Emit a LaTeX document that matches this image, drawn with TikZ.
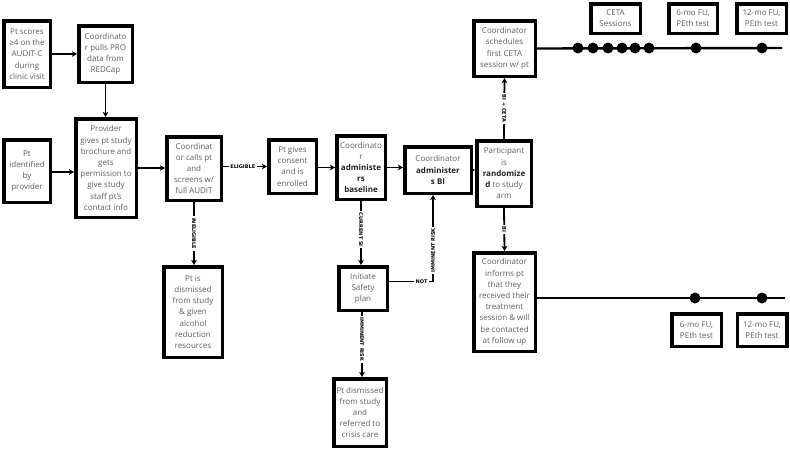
\documentclass[tikz,border=0pt]{standalone}
\usepackage{fontspec}
\setmainfont{Open Sans}
\newfontfamily\labfamily{DejaVu Sans}
\usetikzlibrary{arrows.meta}
\definecolor{txtgray}{HTML}{606060}
\definecolor{boldtxt}{HTML}{222222}
\newcommand{\bx}[1]{\textcolor{boldtxt}{\bfseries #1}}
\tikzset{
  box/.style={draw, line width=3.5pt, fill=white, inner sep=0pt, align=center,
    text=txtgray, font=\fontsize{8}{11.2}\selectfont},
  conn/.style={line width=1.8pt, -{Stealth[length=5pt,width=5.5pt,inset=1.2pt]}},
  lab/.style={fill=white, inner sep=1.8pt, text=black,
    font=\labfamily\bfseries\fontsize{5}{6}\selectfont},
  tl/.style={line width=2.4pt},
  dot/.style={fill=black}
}
\begin{document}
\begin{tikzpicture}[x=1pt,y=-1pt]
\useasboundingbox (0,0) rectangle (790,450);
% boxes (size = outer - line width)
\node[box, minimum width=46.5pt, minimum height=66.5pt] (b1) at (27,54) {Pt scores\\≥4 on the\\AUDIT-C\\during\\clinic visit};
\node[box, minimum width=53.5pt, minimum height=56.5pt] (b2) at (105.5,54) {Coordinato\\r pulls PRO\\data from\\REDCap};
\node[box, minimum width=46.5pt, minimum height=62.5pt] (b3) at (27,171) {Pt\\identified\\by\\provider};
\node[box, minimum width=60.5pt, minimum height=98.5pt] (b4) at (106,168) {Provider\\gives pt study\\brochure and\\gets\\permission to\\give study\\staff pt's\\contact info};
\node[box, minimum width=54.5pt, minimum height=63.5pt] (b5) at (194,168.5) {Coordinat\\or calls pt\\and\\screens w/\\full AUDIT};
\node[box, minimum width=47.5pt, minimum height=53.5pt] (b6) at (292.5,166.5) {Pt gives\\consent\\and is\\enrolled};
\node[box, minimum width=48.5pt, minimum height=63.5pt] (b7) at (361,167.5) {Coordinato\\r\\\bx{administe}\\\bx{rs}\\\bx{baseline}};
\node[box, minimum width=66.5pt, minimum height=46.5pt] (b8) at (438,170) {Coordinator\\\bx{administer}\\\bx{s BI}};
\node[box, minimum width=54.5pt, minimum height=65.5pt] (b9) at (504,173.5) {Participant\\is\\\bx{randomize}\\\bx{d} to study\\arm};
\node[box, minimum width=61.5pt, minimum height=55.5pt] (b10) at (504.5,48.5) {Coordinator\\schedules\\first CETA\\session w/ pt};
\node[box, minimum width=61.5pt, minimum height=98.5pt] (b11) at (504.5,302) {Coordinator\\informs pt\\that they\\received their\\treatment\\session \& will\\be contacted\\at follow up};
\node[box, minimum width=58.5pt, minimum height=90.5pt] (b12) at (193,312) {Pt is\\dismissed\\from study\\\& given\\alcohol\\reduction\\resources};
\node[box, minimum width=48.5pt, minimum height=43.5pt] (b13) at (363,288.5) {Initiate\\Safety\\plan};
\node[box, minimum width=52.5pt, minimum height=67.5pt] (b14) at (360,412.5) {Pt dismissed\\from study\\and\\referred to\\crisis care};
\node[box, minimum width=49.5pt, minimum height=29.5pt] (ceta) at (615.5,18.5) {CETA\\Sessions};
\node[box, minimum width=48.5pt, minimum height=29.5pt] (fu6t) at (693,18.5) {6-mo FU,\\PEth test};
\node[box, minimum width=49.5pt, minimum height=29.5pt] (fu12t) at (761.5,18.5) {12-mo FU,\\PEth test};
\node[box, minimum width=49.5pt, minimum height=32.5pt] (fu6b) at (696.5,330) {6-mo FU,\\PEth test};
\node[box, minimum width=49.5pt, minimum height=32.5pt] (fu12b) at (762,330) {12-mo FU,\\PEth test};
% connectors
\draw[conn] (b1.east) -- (b1.east -| b2.west);
\draw[conn] (b2.south) -- (b2.south |- b4.north);
\draw[conn] ([yshift=-1pt]b3.east) -- ([yshift=-1pt]b3.east -| b4.west);
\draw[conn] (b4.east) -- (b4.east -| b5.west);
\draw[conn] ([yshift=2pt]b5.east) -- node[lab, pos=0.45]{ELIGIBLE} ([yshift=2pt]b5.east -| b6.west);
\draw[conn] ([yshift=-1pt]b6.east) -- ([yshift=-1pt]b6.east -| b7.west);
\draw[conn] (b7.east) -- (b7.east -| b8.west);
\draw[conn] (b8.east) -- (b8.east -| b9.west);
\draw[conn] (b5.south) -- node[lab, rotate=-90]{INELIGIBLE} (b5.south |- b12.north);
\draw[conn] (b7.south) -- node[lab, rotate=-90, pos=0.45]{CURRENT SI} (b7.south |- b13.north);
\draw[conn] ([xshift=-1pt]b13.south) -- node[lab, rotate=-90, pos=0.42]{IMMINENT RISK} ([xshift=-1pt]b13.south |- b14.north);
\draw[conn] ([yshift=7pt]b13.east) -| node[lab, pos=0.37]{NOT} node[lab, rotate=90, pos=0.68]{IMMINENT RISK} ([xshift=-5pt]b8.south);
\draw[conn] (b9.north) -- node[lab, rotate=-90]{BI + CETA} (b10.south);
\draw[conn] (b9.south) -- node[lab, rotate=-90]{BI} (b11.north);
% timelines
\coordinate (tend1) at (782,48);
\coordinate (tend2) at (785,298);
\draw[tl] (b10.east) -- (tend1);
\draw[tl] ([yshift=4pt]b11.east) -- (tend2);
\foreach \x in {578,593,608,622,635,649,696,762}
  \fill[dot] (\x,48) circle (5.5);
\foreach \x in {695,762}
  \fill[dot] (\x,298) circle (5.5);
\end{tikzpicture}
\end{document}
